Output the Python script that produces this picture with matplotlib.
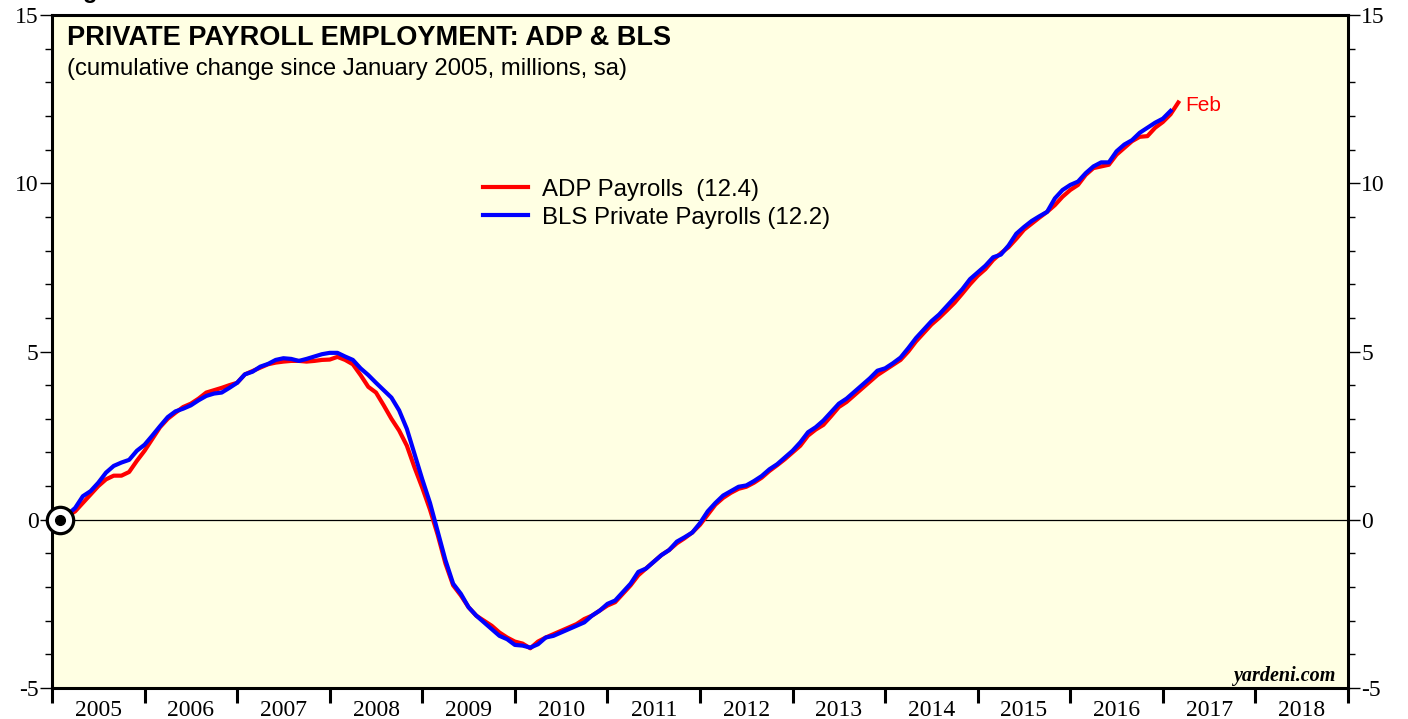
import numpy as np
import matplotlib.pyplot as plt
from matplotlib.ticker import MultipleLocator, FixedLocator, FixedFormatter

# monthly values, Jan 2005 onward (cumulative change, millions)
adp_2005 = [0.00, 0.10, 0.25, 0.50, 0.75, 1.00, 1.20, 1.31, 1.31, 1.42, 1.75, 2.05]
adp_2006 = [2.40, 2.75, 3.00, 3.18, 3.35, 3.45, 3.60, 3.78, 3.85, 3.92, 4.00, 4.07]
adp_2007 = [4.32, 4.42, 4.52, 4.62, 4.67, 4.70, 4.72, 4.72, 4.70, 4.72, 4.75, 4.76]
adp_2008 = [4.84, 4.75, 4.62, 4.30, 3.95, 3.78, 3.40, 3.00, 2.65, 2.20, 1.55, 0.95]
adp_2009 = [0.30, -0.45, -1.30, -1.95, -2.25, -2.60, -2.85, -3.00, -3.15, -3.35, -3.50, -3.62]
adp_2010 = [-3.68, -3.82, -3.62, -3.50, -3.40, -3.30, -3.20, -3.10, -2.95, -2.85, -2.70, -2.55]
adp_2011 = [-2.45, -2.20, -1.95, -1.65, -1.45, -1.25, -1.05, -0.90, -0.70, -0.55, -0.38, -0.15]
adp_2012 = [0.15, 0.45, 0.65, 0.80, 0.92, 0.98, 1.10, 1.25, 1.45, 1.62, 1.80, 2.00]
adp_2013 = [2.20, 2.50, 2.68, 2.82, 3.08, 3.35, 3.50, 3.70, 3.90, 4.10, 4.30, 4.45]
adp_2014 = [4.60, 4.75, 5.00, 5.30, 5.55, 5.80, 6.00, 6.22, 6.45, 6.72, 7.00, 7.25]
adp_2015 = [7.45, 7.72, 7.92, 8.10, 8.35, 8.62, 8.80, 8.98, 9.15, 9.35, 9.60, 9.80]
adp_2016 = [9.95, 10.25, 10.45, 10.50, 10.55, 10.85, 11.05, 11.25, 11.38, 11.40, 11.65, 11.82]
adp_2017 = [12.05, 12.40]

bls_2005 = [0.00, 0.15, 0.35, 0.70, 0.85, 1.10, 1.40, 1.60, 1.70, 1.78, 2.05, 2.23]
bls_2006 = [2.50, 2.78, 3.05, 3.22, 3.30, 3.40, 3.55, 3.68, 3.75, 3.78, 3.92, 4.07]
bls_2007 = [4.32, 4.40, 4.55, 4.63, 4.75, 4.80, 4.78, 4.72, 4.78, 4.85, 4.92, 4.96]
bls_2008 = [4.96, 4.85, 4.75, 4.50, 4.30, 4.07, 3.85, 3.63, 3.25, 2.70, 1.95, 1.20]
bls_2009 = [0.50, -0.35, -1.20, -1.90, -2.20, -2.60, -2.85, -3.05, -3.25, -3.45, -3.55, -3.72]
bls_2010 = [-3.74, -3.80, -3.70, -3.50, -3.45, -3.35, -3.25, -3.15, -3.05, -2.85, -2.70, -2.50]
bls_2011 = [-2.40, -2.15, -1.90, -1.55, -1.45, -1.25, -1.05, -0.90, -0.65, -0.52, -0.38, -0.10]
bls_2012 = [0.25, 0.50, 0.72, 0.85, 0.98, 1.02, 1.15, 1.30, 1.50, 1.65, 1.85, 2.05]
bls_2013 = [2.30, 2.60, 2.75, 2.95, 3.20, 3.45, 3.60, 3.80, 4.00, 4.20, 4.43, 4.50]
bls_2014 = [4.65, 4.82, 5.10, 5.40, 5.65, 5.90, 6.10, 6.35, 6.60, 6.85, 7.15, 7.35]
bls_2015 = [7.55, 7.80, 7.88, 8.15, 8.50, 8.70, 8.88, 9.02, 9.15, 9.55, 9.80, 9.95]
bls_2016 = [10.05, 10.30, 10.50, 10.62, 10.62, 10.95, 11.15, 11.28, 11.50, 11.65, 11.80, 11.92]
bls_2017 = [12.15]

adp = np.array(adp_2005 + adp_2006 + adp_2007 + adp_2008 + adp_2009 + adp_2010 + adp_2011
               + adp_2012 + adp_2013 + adp_2014 + adp_2015 + adp_2016 + adp_2017)
bls = np.array(bls_2005 + bls_2006 + bls_2007 + bls_2008 + bls_2009 + bls_2010 + bls_2011
               + bls_2012 + bls_2013 + bls_2014 + bls_2015 + bls_2016 + bls_2017)

years = list(range(2005, 2019))
adp_label = 'ADP Payrolls  (12.4)'
bls_label = 'BLS Private Payrolls (12.2)'

# plotted at month end
x_adp = 2005 + (np.arange(len(adp)) + 1) / 12
x_bls = 2005 + (np.arange(len(bls)) + 1) / 12

SANS = ['Liberation Sans', 'DejaVu Sans']
SERIF = ['Liberation Serif', 'DejaVu Serif']

fig = plt.figure(figsize=(14.08, 7.19), dpi=100)
ax = fig.add_axes([52/1408, 1 - 688/719, (1348 - 52)/1408, (688 - 15)/719])
ax.set_facecolor('#ffffe3')

ax.axhline(0, color='black', linewidth=0.9, zorder=1)
ax.plot(x_adp, adp, color='#ff0000', linewidth=3.0, label=adp_label, zorder=3)
ax.plot(x_bls, bls, color='#0000ff', linewidth=3.0, label=bls_label, zorder=4)

# start marker
ax.plot(x_bls[0], 0, 'o', markersize=19, markerfacecolor='white', markeredgecolor='black',
        markeredgewidth=2.3, zorder=5, clip_on=False)
ax.plot(x_bls[0], 0, 'o', markersize=7, color='black', zorder=6, clip_on=False)

ax.text(x_adp[-1] + 0.08, adp[-1] - 0.1, 'Feb', color='#ff0000', fontsize=15, family=SANS,
        va='center', ha='left')

ax.set_xlim(2005, 2019)
ax.set_ylim(-5, 15)

for s in ax.spines.values():
    s.set_linewidth(2.2)

ax.yaxis.set_major_locator(MultipleLocator(5))
ax.yaxis.set_minor_locator(MultipleLocator(1))
ax.tick_params(axis='y', which='major', direction='out', length=8.5, width=1.0,
               left=True, right=True, labelleft=True, labelright=True, labelsize=17, pad=1)
ax.tick_params(axis='y', which='minor', direction='out', length=5, width=1.0,
               left=True, right=True)
ax.yaxis.set_major_formatter(plt.FuncFormatter(lambda v, p: f'{v:g}'))

ax.xaxis.set_major_locator(FixedLocator(years + [2019]))
ax.xaxis.set_major_formatter(FixedFormatter([]))
ax.xaxis.set_minor_locator(FixedLocator([y + 0.5 for y in years]))
ax.xaxis.set_minor_formatter(FixedFormatter([str(y) for y in years]))
ax.tick_params(axis='x', which='major', direction='out', length=11, width=2.2, bottom=True, top=False)
ax.tick_params(axis='x', which='minor', length=0, labelsize=17, pad=9)

for lab in ax.get_xticklabels(minor=True):
    lab.set_family(SERIF)
for t in ax.yaxis.get_major_ticks():
    t.label1.set_family(SERIF)
    t.label2.set_family(SERIF)

ax.text(0.0115, 0.985, 'PRIVATE PAYROLL EMPLOYMENT: ADP & BLS', transform=ax.transAxes,
        fontsize=19.5, fontweight='bold', family=SANS, va='top', ha='left')
ax.text(0.0115, 0.9355, '(cumulative change since January 2005, millions, sa)', transform=ax.transAxes,
        fontsize=17.2, family=SANS, va='top', ha='left')

ax.legend(loc='upper left', bbox_to_anchor=(0.325, 0.771), frameon=False,
          prop={'family': SANS, 'size': 17.3},
          handlelength=1.9, handletextpad=0.55, labelspacing=0.25, borderaxespad=0)

ax.text(0.99, 0.003, 'yardeni.com', transform=ax.transAxes, fontsize=14.5, fontweight='bold',
        fontstyle='italic', family=SERIF, ha='right', va='bottom')

fig.text(62/1408, 1 + 2/719, 'Figure 1.', fontsize=17, fontweight='bold', family=SANS,
         ha='left', va='baseline')

fig.savefig('out.png', dpi=100)
